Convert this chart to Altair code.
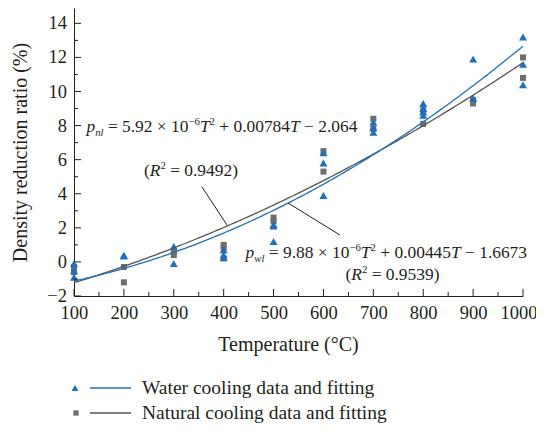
import altair as alt
import pandas as pd

# ---------------- data ----------------
water_T = [100, 100, 100, 200, 200, 300, 300, 400, 400, 400, 500, 500, 500,
           600, 600, 600, 700, 700, 700, 800, 800, 800, 800, 900, 900,
           1000, 1000, 1000]
water_v = [-0.1, -0.5, -0.9, 0.4, 0.35, 0.9, -0.1, 0.7, 0.4, 0.25, 2.2, 2.1, 1.2,
           6.4, 5.8, 3.9, 8.2, 7.9, 7.6, 9.3, 9.0, 8.8, 8.6, 11.9, 9.6,
           13.2, 11.6, 10.4]

natural_T = [100, 100, 200, 200, 300, 300, 400, 400, 400, 500, 500,
             600, 600, 700, 700, 800, 800, 900, 900, 1000, 1000]
natural_v = [-0.3, -0.6, -0.3, -1.2, 0.6, 0.4, 1.0, 0.8, 0.2, 2.6, 2.4,
             6.5, 5.3, 8.4, 7.8, 8.9, 8.1, 9.3, 9.5, 12.0, 10.8]

# fitted quadratic coefficients printed on the chart (a*T^2 + b*T + c)
water_coef = [9.88e-6, 0.00445, -1.6673]
natural_coef = [5.92e-6, 0.00784, -2.064]

x_ticks = [100, 200, 300, 400, 500, 600, 700, 800, 900, 1000]
x_minor = [150, 250, 350, 450, 550, 650, 750, 850, 950]
y_ticks = [-2, 0, 2, 4, 6, 8, 10, 12, 14]
y_tick_labels = ["−2", "0", "2", "4", "6", "8", "10", "12", "14"]
y_minor = [-1, 1, 3, 5, 7, 9, 11, 13]

legend_labels = ["Water cooling data and fitting", "Natural cooling data and fitting"]

# ---------------- styling ----------------
FONT = "Liberation Serif"
BLUE = "#1f6fbd"
GREY_PT = "#6e6e6e"
GREY_LN = "#555555"
INK = "#231f20"
W, H = 449, 288
XDOM = [100, 1000]
YDOM = [-2, 14.9]
TICK_FS = 18.5

xs = alt.Scale(domain=XDOM, nice=False, zero=False)
ys = alt.Scale(domain=YDOM, nice=False, zero=False)

water_df = pd.DataFrame({"T": water_T, "v": water_v})
natural_df = pd.DataFrame({"T": natural_T, "v": natural_v})
ylab_df = pd.DataFrame({"t": y_ticks, "lab": y_tick_labels})
one = pd.DataFrame({"k": [0]})

layers = []

# points
layers.append(
    alt.Chart(natural_df).mark_point(shape="square", filled=True, size=36,
                                     color=GREY_PT, opacity=1).encode(
        x=alt.X("T:Q", scale=xs,
                axis=alt.Axis(values=x_ticks, ticks=False, grid=False, labelPadding=7,
                              labelOverlap=False, labelFlush=True, labelFlushOffset=14,
                              format="d",
                              title="Temperature (°C)", titleX=214, titleY=54,
                              titleBaseline="alphabetic", titleAlign="center")),
        y=alt.Y("v:Q", scale=ys,
                axis=alt.Axis(values=y_ticks, ticks=False, grid=False, labels=False,
                              title="Density reduction ratio (%)", titleX=-54, titleY=144,
                              titleAngle=270, titleAlign="center", titleBaseline="middle")),
    )
)
layers.append(
    alt.Chart(water_df).mark_point(shape="triangle-up", filled=True, size=64,
                                   color=BLUE, opacity=1).encode(
        x=alt.X("T:Q", scale=xs), y=alt.Y("v:Q", scale=ys)
    )
)

# fitted curves
def curve(coef, color):
    a, b, c = coef
    return alt.Chart(alt.sequence(100, 1001, 5, as_="T")).transform_calculate(
        v=f"{a}*datum.T*datum.T + {b}*datum.T + {c}"
    ).mark_line(color=color, strokeWidth=1.3).encode(
        x=alt.X("T:Q", scale=xs), y=alt.Y("v:Q", scale=ys)
    )

layers.append(curve(natural_coef, GREY_LN))
layers.append(curve(water_coef, BLUE))

# inward ticks
def xtick_layer(vals, length):
    return alt.Chart(pd.DataFrame({"t": vals})).mark_rule(color=INK, strokeWidth=1).encode(
        x=alt.X("t:Q", scale=xs), y=alt.value(H), y2=alt.value(H - length))

def ytick_layer(vals, length):
    return alt.Chart(pd.DataFrame({"t": vals})).mark_rule(color=INK, strokeWidth=1).encode(
        y=alt.Y("t:Q", scale=ys), x=alt.value(0), x2=alt.value(length))

layers += [xtick_layer(x_ticks, 7), xtick_layer(x_minor, 4),
           ytick_layer(y_ticks, 7), ytick_layer(y_minor, 4)]

# y tick labels
layers.append(alt.Chart(ylab_df).mark_text(align="right", baseline="middle", fontSize=TICK_FS,
                                           font=FONT, color=INK).encode(
    y=alt.Y("t:Q", scale=ys), x=alt.value(-7), text="lab:N"))

# leader lines
def leader(x1, y1, x2, y2):
    return alt.Chart(one).mark_rule(color=INK, strokeWidth=1).encode(
        x=alt.datum(x1), y=alt.datum(y1), x2=alt.datum(x2), y2=alt.datum(y2))

layers.append(leader(356.5, 4.40, 406.6, 2.17))
layers.append(leader(529.0, 3.46, 633.0, 1.58))

# equations, built from pieces (Times-compatible widths)
REG = {" ": 250, ".": 250, "=": 564, "+": 564, "×": 564, "−": 564, "(": 333, ")": 333}
ITA = {"p": 500, "n": 500, "l": 278, "w": 667, "T": 556, "R": 611}

def text_w(s, italic, size):
    tbl = ITA if italic else REG
    return sum(tbl.get(ch, 500) for ch in s) * size / 1000.0

def equation(segs, x0, y0, fs, center=False):
    out = []
    total = sum(text_w(t, it, fs * sc) for t, it, sc, dy in segs)
    off = -total / 2 if center else 0
    for t, it, sc, dy in segs:
        size = fs * sc
        lead = len(t) - len(t.lstrip(" "))
        off += lead * 250 * size / 1000.0
        body = t.strip(" ")
        out.append(alt.Chart(one).mark_text(
            align="left", baseline="alphabetic", dx=off, dy=dy, fontSize=size,
            fontStyle="italic" if it else "normal", font=FONT, color=INK
        ).encode(x=alt.datum(x0), y=alt.datum(y0), text=alt.value(body)))
        off += text_w(body, it, size)
    return out

EQ = 17.4
SUB = 0.62
nat_eq = [("p", 1, 1, 0), ("nl", 1, SUB, 4), (" = 5.92 × 10", 0, 1, 0), ("−6", 0, SUB, -7),
          ("T", 1, 1, 0), ("2", 0, SUB, -7), (" + 0.00784", 0, 1, 0), ("T", 1, 1, 0),
          (" − 2.064", 0, 1, 0)]
nat_r2 = [("(", 0, 1, 0), ("R", 1, 1, 0), ("2", 0, SUB, -7), (" = 0.9492)", 0, 1, 0)]
wat_eq = [("p", 1, 1, 0), ("wl", 1, SUB, 4), (" = 9.88 × 10", 0, 1, 0), ("−6", 0, SUB, -7),
          ("T", 1, 1, 0), ("2", 0, SUB, -7), (" + 0.00445", 0, 1, 0), ("T", 1, 1, 0),
          (" − 1.6673", 0, 1, 0)]
wat_r2 = [("(", 0, 1, 0), ("R", 1, 1, 0), ("2", 0, SUB, -7), (" = 0.9539)", 0, 1, 0)]

layers += equation(nat_eq, 125, 7.62, EQ)
layers += equation(nat_r2, 334.5, 5.04, EQ, center=True)
layers += equation(wat_eq, 444, 0.23, EQ)
layers += equation(wat_r2, 738.4, -1.06, EQ, center=True)

# manual legend
LEG_Y = [380, 405]
layers.append(alt.Chart(one).mark_point(shape="triangle-up", filled=True, size=50,
                                        color=BLUE, opacity=1).encode(
    x=alt.value(1), y=alt.value(LEG_Y[0])))
layers.append(alt.Chart(one).mark_point(shape="square", filled=True, size=28,
                                        color=GREY_PT, opacity=1).encode(
    x=alt.value(2), y=alt.value(LEG_Y[1])))
layers.append(alt.Chart(one).mark_rule(color=BLUE, strokeWidth=1.3).encode(
    x=alt.value(16), x2=alt.value(57), y=alt.value(LEG_Y[0])))
layers.append(alt.Chart(one).mark_rule(color=GREY_LN, strokeWidth=1.3).encode(
    x=alt.value(16), x2=alt.value(57), y=alt.value(LEG_Y[1])))
for lab, yy in zip(legend_labels, LEG_Y):
    layers.append(alt.Chart(one).mark_text(align="left", baseline="middle", fontSize=19.5,
                                           font=FONT, color=INK).encode(
        x=alt.value(68), y=alt.value(yy), text=alt.value(lab)))

chart = alt.layer(*layers).properties(
    width=W, height=H,
    autosize=alt.AutoSizeParams(type="none"),
    padding={"left": 66, "top": 0, "right": 13, "bottom": 128},
).configure_axis(
    labelFont=FONT, titleFont=FONT, labelFontSize=TICK_FS, titleFontSize=20,
    labelColor=INK, titleColor=INK, domainColor=INK, domainWidth=1,
    titleFontWeight="normal", labelOverlap=False,
).configure_view(stroke="transparent")

chart.save("out.html", embed_options={"renderer": "svg", "actions": False})
